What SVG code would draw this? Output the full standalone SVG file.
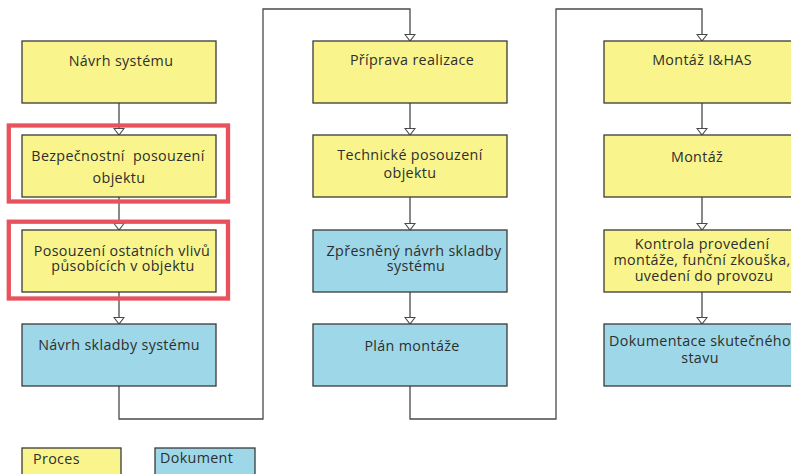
<svg xmlns="http://www.w3.org/2000/svg" width="791" height="474" viewBox="0 0 791 474">
<defs>
<style>
.p{fill:#F9F58C;stroke:#3a3a3a;stroke-width:1.3}
.d{fill:#9DD7E8;stroke:#3a3a3a;stroke-width:1.3}
.hl{fill:none;stroke:#E8525C;stroke-width:4.3}
.c{fill:none;stroke:#4a4a4a;stroke-width:1.3}
text{font-family:"Open Sans","Liberation Sans",sans-serif;font-size:14.3px;fill:#2e2e2e;text-anchor:middle;letter-spacing:0.35px}
text.l{text-anchor:start}
</style>
<marker id="ah" markerUnits="userSpaceOnUse" markerWidth="10" markerHeight="12" viewBox="-8 -6 10 12" refX="0" refY="0" orient="auto">
<path d="M-6.5,-5 L-6.5,5 L0,0 Z" fill="#fff" stroke="#4a4a4a" stroke-width="1.1"/>
</marker>
</defs>
<rect width="791" height="474" fill="#fff"/>
<g id="connectors">
<path class="c" d="M119,103 V135" marker-end="url(#ah)"/>
<path class="c" d="M119,197 V230" marker-end="url(#ah)"/>
<path class="c" d="M119,292 V324" marker-end="url(#ah)"/>
<path class="c" d="M119,386 V419 H263 V9 H410 V41" marker-end="url(#ah)"/>
<path class="c" d="M410,103 V135" marker-end="url(#ah)"/>
<path class="c" d="M410,197 V230" marker-end="url(#ah)"/>
<path class="c" d="M410,292 V324" marker-end="url(#ah)"/>
<path class="c" d="M410,386 V419 H556 V9 H702 V41" marker-end="url(#ah)"/>
<path class="c" d="M702,103 V135" marker-end="url(#ah)"/>
<path class="c" d="M702,197 V230" marker-end="url(#ah)"/>
<path class="c" d="M702,292 V324" marker-end="url(#ah)"/>
</g>
<g id="n1"><rect class="p" x="22" y="41" width="194" height="62"/><text x="121" y="66">Návrh systému</text></g>
<g id="n2"><rect class="p" x="22" y="135" width="194" height="62"/><text x="118" y="160.5" style="white-space:pre">Bezpečnostní  posouzení</text><text x="119" y="183">objektu</text></g>
<g id="n3"><rect class="p" x="22" y="230" width="194" height="62"/><text x="122" y="255.5">Posouzení ostatních vlivů</text><text x="123" y="271">působících v objektu</text></g>
<g id="n4"><rect class="d" x="22" y="324" width="194" height="62"/><text x="119" y="350">Návrh skladby systému</text></g>
<g id="n5"><rect class="p" x="313" y="41" width="194" height="62"/><text x="412" y="65">Příprava realizace</text></g>
<g id="n6"><rect class="p" x="313" y="135" width="194" height="62"/><text x="410" y="160">Technické posouzení</text><text x="410" y="178">objektu</text></g>
<g id="n7"><rect class="d" x="313" y="230" width="194" height="62"/><text x="414" y="255.5">Zpřesněný návrh skladby</text><text x="416" y="270.5">systému</text></g>
<g id="n8"><rect class="d" x="313" y="324" width="194" height="62"/><text x="412" y="350.5">Plán montáže</text></g>
<g id="n9"><rect class="p" x="604" y="41" width="194" height="62"/><text x="702" y="65">Montáž I&amp;HAS</text></g>
<g id="n10"><rect class="p" x="604" y="135" width="194" height="62"/><text x="697" y="161.5">Montáž</text></g>
<g id="n11"><rect class="p" x="604" y="230" width="194" height="62"/><text x="702" y="249">Kontrola provedení</text><text x="702" y="265">montáže, funční zkouška,</text><text x="704" y="280.5">uvedení do provozu</text></g>
<g id="n12"><rect class="d" x="604" y="324" width="194" height="62"/><text x="700" y="346">Dokumentace skutečného</text><text x="700" y="363">stavu</text></g>
<g id="hl1"><rect class="hl" x="8.8" y="125.5" width="219.2" height="76"/></g>
<g id="hl2"><rect class="hl" x="8.8" y="221.7" width="219.2" height="76.8"/></g>
<g id="legend-proces"><rect class="p" x="22" y="448" width="99" height="40"/><text class="l" x="33" y="464">Proces</text></g>
<g id="legend-dokument"><rect class="d" x="155" y="448" width="100" height="40"/><text class="l" x="160" y="463">Dokument</text></g>
</svg>
